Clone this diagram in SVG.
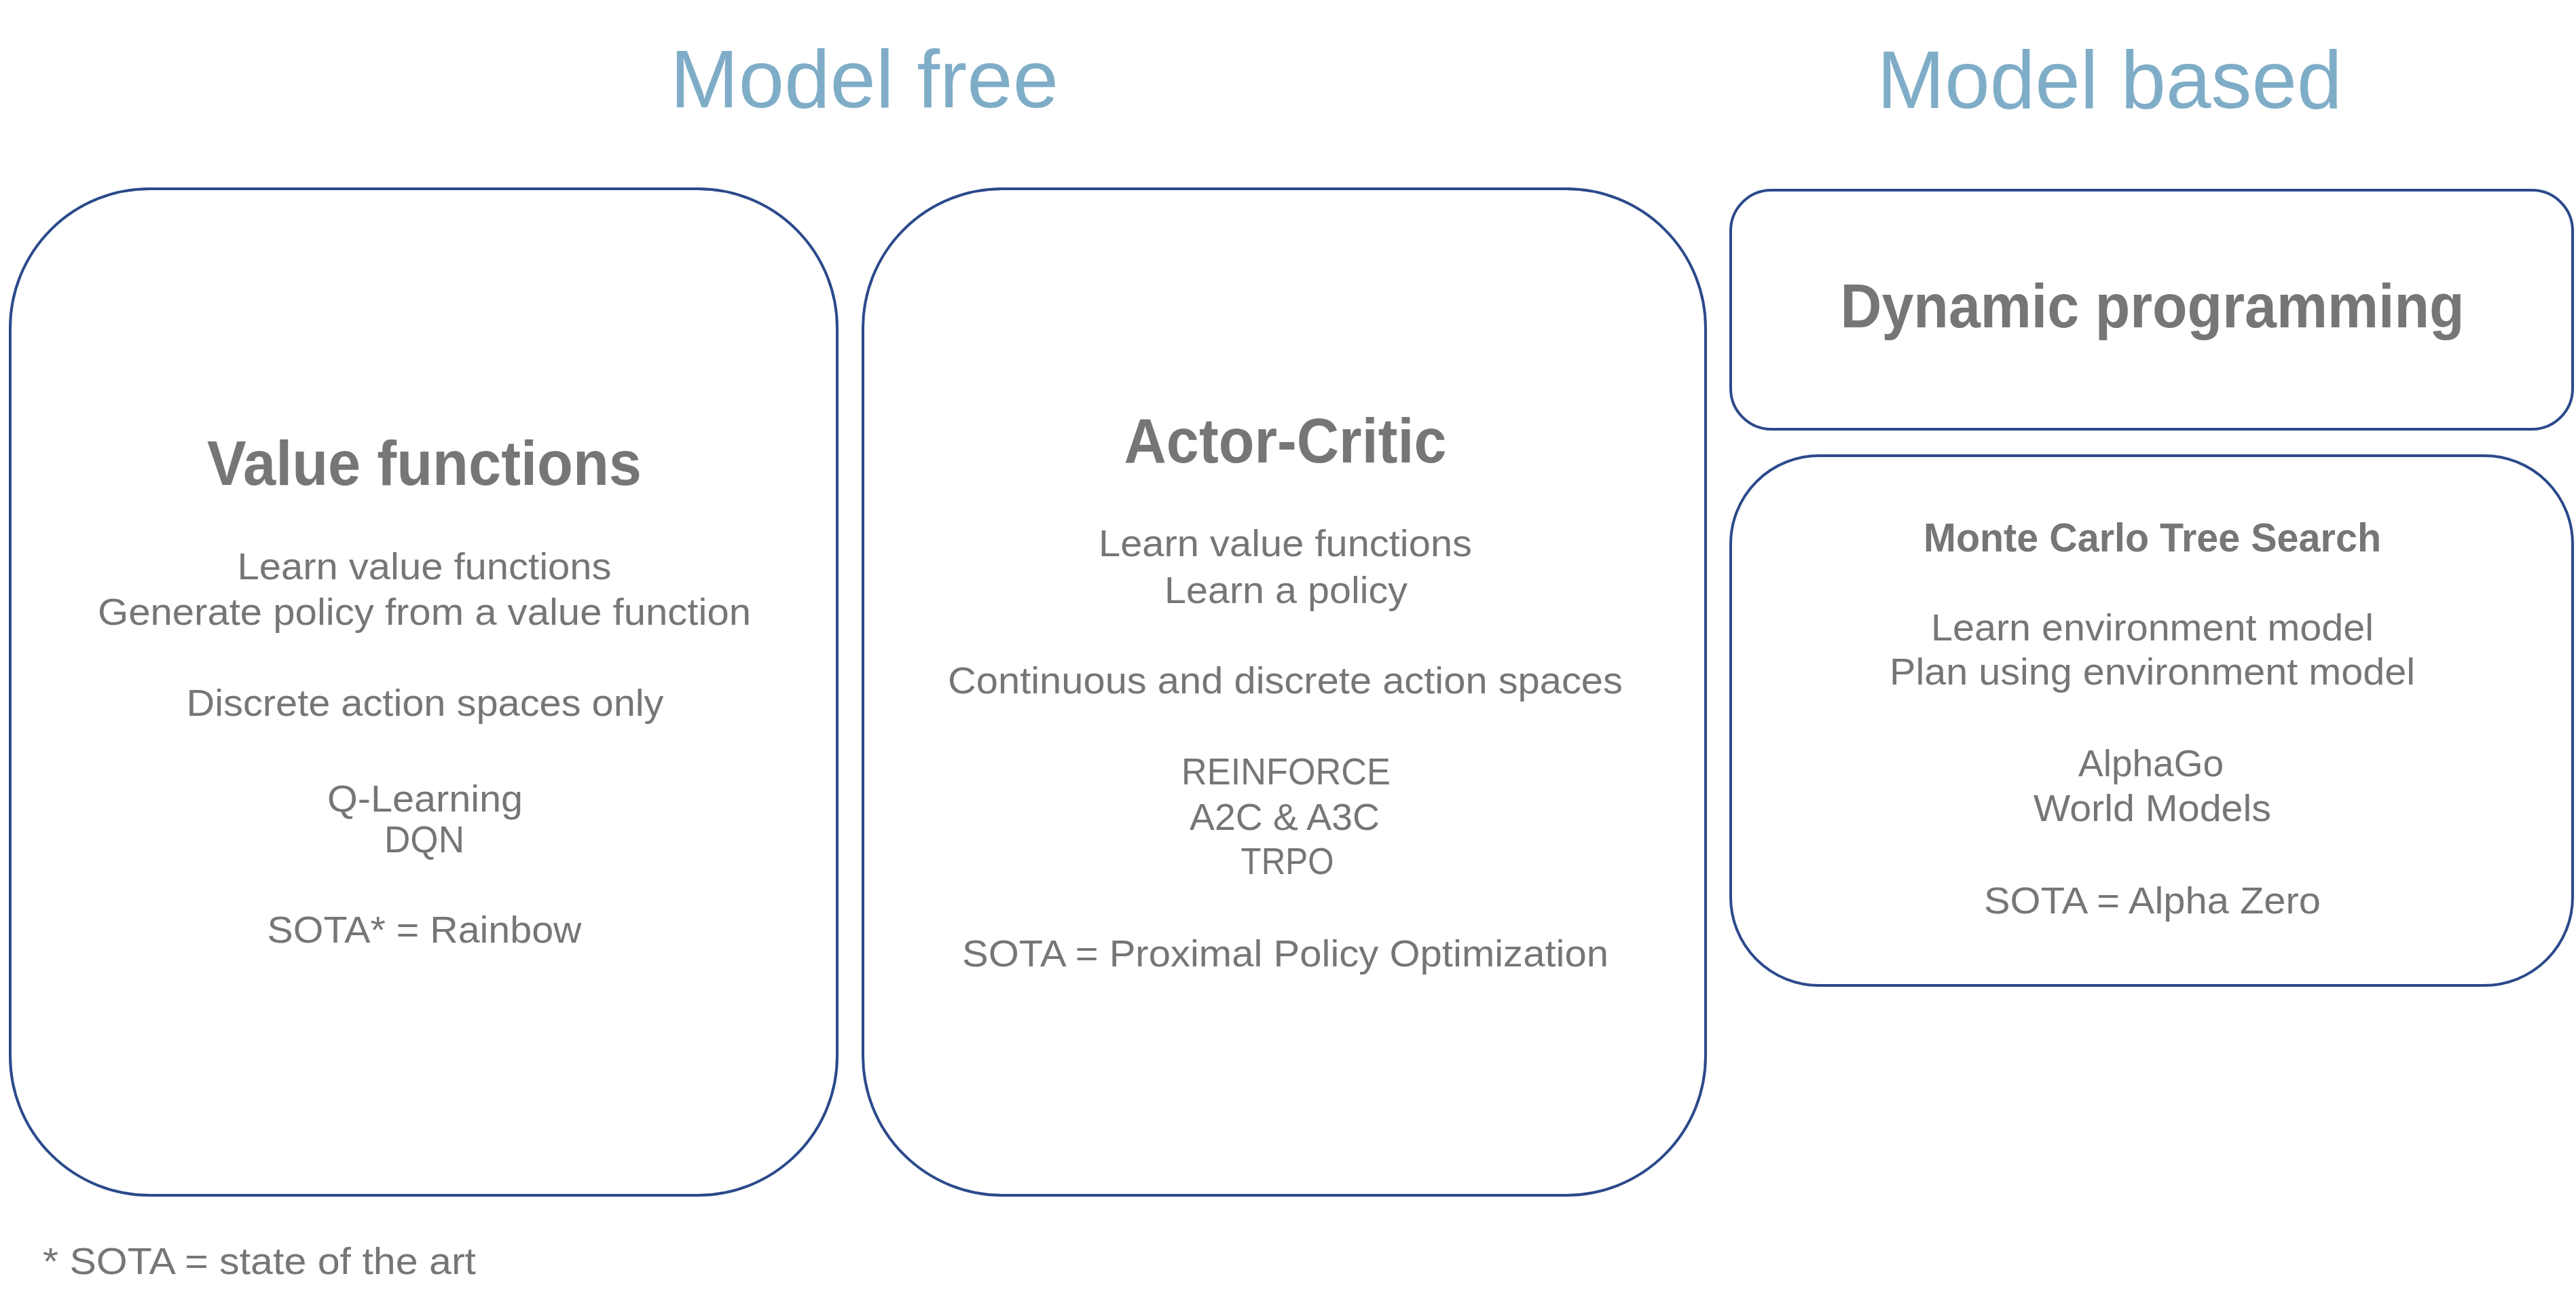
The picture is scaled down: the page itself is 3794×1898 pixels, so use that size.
<svg xmlns="http://www.w3.org/2000/svg" width="3794" height="1898" viewBox="0 0 3794 1898">
<style>
.box{fill:#ffffff;stroke:#2B4A8B;stroke-width:4}
.title{font-family:"Liberation Sans",Arial,sans-serif;font-size:120px;fill:#7FADC7;text-anchor:middle}
.head{font-family:"Liberation Sans",Arial,sans-serif;font-weight:bold;fill:#767676;text-anchor:middle}
.body{font-family:"Liberation Sans",Arial,sans-serif;font-size:56px;fill:#767676;text-anchor:middle}
.note{font-family:"Liberation Sans",Arial,sans-serif;font-size:56px;fill:#767676}
</style>
<rect width="3794" height="1898" fill="#ffffff"/>
<g id="titles">
<text class="title" x="1273" y="158" textLength="572" lengthAdjust="spacingAndGlyphs">Model free</text>
<text class="title" x="3107" y="159" textLength="685" lengthAdjust="spacingAndGlyphs">Model based</text>
</g>
<g id="connectors"></g>
<g id="value-functions">
<rect class="box" x="15" y="278" width="1218" height="1482" rx="205" ry="205"/>
<text class="head" font-size="92" x="625" y="714" textLength="640" lengthAdjust="spacingAndGlyphs">Value functions</text>
<text class="body" x="625" y="853" textLength="551" lengthAdjust="spacingAndGlyphs">Learn value functions</text>
<text class="body" x="625" y="920" textLength="962" lengthAdjust="spacingAndGlyphs">Generate policy from a value function</text>
<text class="body" x="626" y="1054" textLength="703" lengthAdjust="spacingAndGlyphs">Discrete action spaces only</text>
<text class="body" x="626" y="1195" textLength="288" lengthAdjust="spacingAndGlyphs">Q-Learning</text>
<text class="body" x="625" y="1255" textLength="118" lengthAdjust="spacingAndGlyphs">DQN</text>
<text class="body" x="625" y="1388" textLength="463" lengthAdjust="spacingAndGlyphs">SOTA* = Rainbow</text>
</g>
<g id="actor-critic">
<rect class="box" x="1271" y="278" width="1241" height="1482" rx="205" ry="205"/>
<text class="head" font-size="92" x="1893" y="681" textLength="475" lengthAdjust="spacingAndGlyphs">Actor-Critic</text>
<text class="body" x="1893" y="819" textLength="550" lengthAdjust="spacingAndGlyphs">Learn value functions</text>
<text class="body" x="1894" y="888" textLength="358" lengthAdjust="spacingAndGlyphs">Learn a policy</text>
<text class="body" x="1893" y="1021" textLength="994" lengthAdjust="spacingAndGlyphs">Continuous and discrete action spaces</text>
<text class="body" x="1894" y="1155" textLength="308" lengthAdjust="spacingAndGlyphs">REINFORCE</text>
<text class="body" x="1892" y="1222" textLength="280" lengthAdjust="spacingAndGlyphs">A2C &amp; A3C</text>
<text class="body" x="1896" y="1287" textLength="137" lengthAdjust="spacingAndGlyphs">TRPO</text>
<text class="body" x="1893" y="1423" textLength="952" lengthAdjust="spacingAndGlyphs">SOTA = Proximal Policy Optimization</text>
</g>
<g id="dynamic-programming">
<rect class="box" x="2549" y="280" width="1240" height="352" rx="60" ry="60"/>
<text class="head" font-size="90" x="3170" y="482" textLength="919" lengthAdjust="spacingAndGlyphs">Dynamic programming</text>
</g>
<g id="mcts">
<rect class="box" x="2549" y="671" width="1240" height="780" rx="130" ry="130"/>
<text class="head" font-size="60" x="3170" y="812" textLength="674" lengthAdjust="spacingAndGlyphs">Monte Carlo Tree Search</text>
<text class="body" x="3170" y="943" textLength="652" lengthAdjust="spacingAndGlyphs">Learn environment model</text>
<text class="body" x="3170" y="1008" textLength="774" lengthAdjust="spacingAndGlyphs">Plan using environment model</text>
<text class="body" x="3168" y="1143" textLength="214" lengthAdjust="spacingAndGlyphs">AlphaGo</text>
<text class="body" x="3170" y="1209" textLength="350" lengthAdjust="spacingAndGlyphs">World Models</text>
<text class="body" x="3170" y="1345" textLength="496" lengthAdjust="spacingAndGlyphs">SOTA = Alpha Zero</text>
</g>
<g id="footnote">
<text class="note" x="63" y="1876" textLength="638" lengthAdjust="spacingAndGlyphs">* SOTA = state of the art</text>
</g>
</svg>
